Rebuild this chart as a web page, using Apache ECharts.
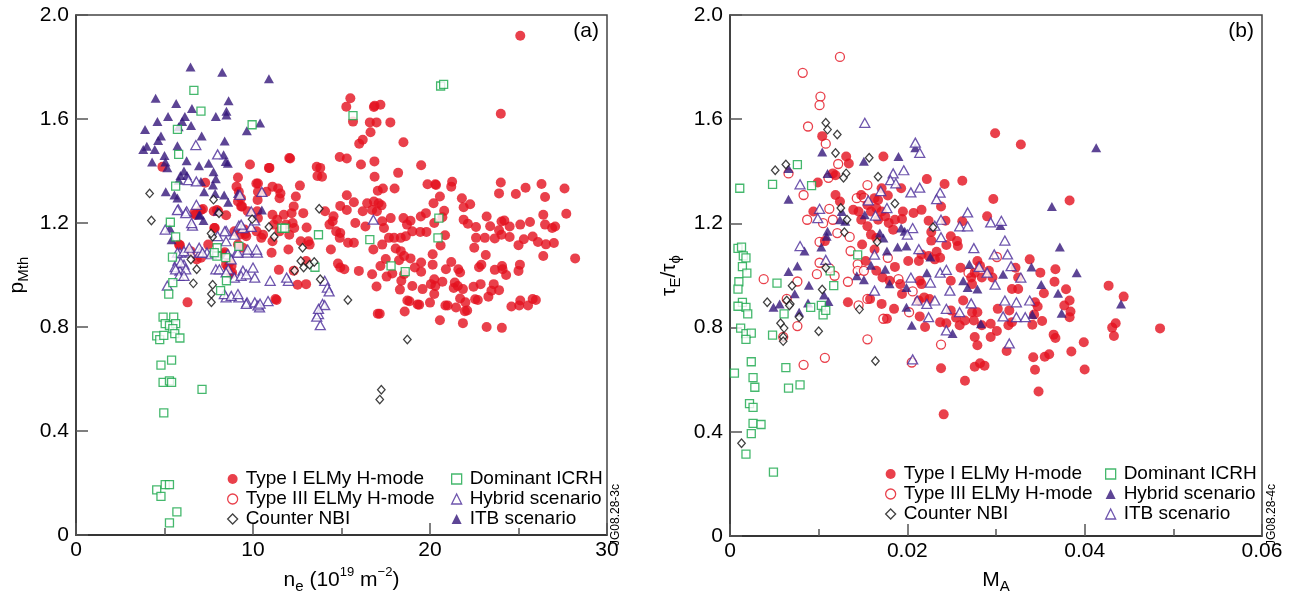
<!DOCTYPE html>
<html><head><meta charset="utf-8">
<script src="https://cdn.jsdelivr.net/npm/echarts@6/dist/echarts.min.js"></script>
<style>html,body{margin:0;padding:0;background:#fff}#c{width:1297px;height:599px}</style>
</head><body><div id="c"></div>
<script>
// ---------- tick labels ----------
const yTickLabels = ['0','0.4','0.8','1.2','1.6','2.0'];
const xTickLabelsA = ['0','10','20','30'];
const xTickLabelsB = ['0','0.02','0.04','0.06'];

// ---------- panel (a): p_Mth vs n_e ----------
const typeIA = [[4.88,1.416],[9.83,1.425],[10.93,1.412],[12.1,1.448],[9.15,1.375],[9.07,1.34],[9.2,1.32],[9.32,1.295],[9.38,1.264],[7.3,1.355],[10.19,1.352],[10.28,1.32],[10.26,1.289],[7.17,1.254],[7.96,1.25],[8.48,1.23],[7.84,1.181],[6.75,1.232],[5.87,1.115],[6.47,1.092],[6.82,1.06],[8.4,1.088],[8.48,1.041],[8.82,1.01],[8.79,1.035],[9.56,1.158],
[6.3,0.895],[11.33,0.904],[5.82,1.117],[7.06,1.25],[6.68,1.238],[7.78,1.245],[8.04,1.245],[9.15,1.283],[9.33,1.264],[9.7,1.245],[10.24,1.245],[8.95,1.168],[9.52,1.175],[9.62,1.149],[9.24,1.155],[10.2,1.168],[7.81,1.181],[7.47,1.117],[7.06,1.067],[8.38,1.08],[8.67,1.048],[8.58,1.029],[8.77,1.003],[9.15,1.117],[9.43,1.105],
[15.5,1.68],[15.27,1.647],[16.83,1.646],[16.87,1.651],[17.2,1.655],[15.65,1.59],[16.6,1.587],[16.98,1.587],[17.76,1.587],[16.64,1.549],[16.2,1.52],[16.0,1.505],[18.5,1.511],[12.05,1.45],[14.9,1.454],[15.3,1.448],[16.1,1.425],[16.86,1.437],[19.5,1.422],[10.9,1.412],[13.6,1.416],[13.8,1.412],[13.64,1.381],[13.9,1.378],[16.87,1.378],[18.2,1.393],[10.28,1.352],[11.1,1.34],[11.42,1.333],[11.55,1.314],[11.5,1.295],[10.76,1.32],[12.65,1.344],[12.42,1.302],[15.3,1.307],[15.7,1.28],[14.93,1.266],[15.3,1.25],[16.45,1.276],[16.83,1.283],[17.1,1.276],[17.26,1.268],[16.73,1.25],[17.0,1.245],[16.2,1.245],[17.05,1.324],[17.34,1.333],[18.0,1.333],[19.86,1.349],[20.34,1.346],[20.2,1.276],[12.3,1.264],[12.18,1.238],[12.24,1.2],[12.33,1.181],[11.86,1.194],[12.84,1.238],[11.74,1.232],[11.1,1.232],[11.37,1.213],[11.17,1.194],[11.5,1.168],[10.28,1.219],[10.57,1.155],[13.03,1.183],[14.07,1.245],[14.55,1.226],[14.5,1.207],[14.32,1.194],[14.7,1.168],[14.93,1.162],[14.9,1.143],[15.78,1.2],[16.35,1.187],[17.3,1.207],[17.4,1.181],[17.78,1.219],[18.5,1.219],[18.9,1.209],[18.7,1.194],[19.48,1.225],[19.77,1.238],[20.24,1.2],[19.0,1.168],[19.45,1.166],[19.8,1.166],[10.47,1.143],[11.1,1.13],[11.05,1.086],[12.0,1.098],[12.05,1.155],[12.7,1.13],[13.13,1.13],[13.2,1.117],[14.4,1.098],[15.37,1.124],[15.7,1.124],[16.8,1.098],[17.3,1.117],[17.68,1.143],[17.97,1.143],[18.35,1.143],[18.63,1.149],[18.06,1.102],[18.35,1.092],[18.54,1.073],[18.9,1.064],[18.25,1.057],[17.5,1.062],[19.5,1.048],[19.14,1.029],[19.5,1.013],[20.15,1.08],[20.15,1.04],[11.46,1.02],[12.3,1.017],[13.0,1.054],[14.8,1.044],[15.16,1.022],[14.93,1.029],[15.98,1.016],[16.73,1.003],[17.2,1.035],[17.55,0.994],[17.87,1.006],[18.54,1.003],[18.38,0.978],[12.52,0.963],[13.0,0.965],[16.98,0.956],[18.3,0.944],[19.0,0.958],[19.58,0.946],[20.05,0.965],[11.27,0.908],[18.72,0.902],[19.3,0.887],[20.0,0.894],[17.05,0.851],[18.57,0.86],
[25.1,1.92],[24.0,1.62],[20.3,1.349],[21.25,1.359],[21.2,1.34],[24.0,1.356],[23.9,1.314],[24.85,1.312],[25.4,1.336],[26.3,1.35],[26.5,1.3],[27.6,1.333],[20.56,1.302],[21.8,1.295],[21.9,1.261],[22.27,1.272],[20.8,1.247],[20.7,1.222],[21.9,1.213],[22.14,1.197],[22.6,1.185],[23.2,1.225],[23.4,1.188],[24.04,1.206],[24.2,1.21],[24.5,1.187],[23.9,1.172],[25.1,1.194],[25.65,1.204],[26.4,1.232],[26.5,1.194],[26.9,1.181],[27.07,1.187],[27.7,1.236],[20.85,1.153],[20.6,1.114],[22.6,1.143],[23.1,1.143],[23.66,1.141],[24.04,1.155],[24.5,1.146],[25.3,1.138],[25.0,1.115],[25.8,1.148],[26.1,1.127],[26.55,1.118],[27.0,1.123],[22.5,1.105],[23.15,1.077],[26.4,1.073],[28.2,1.064],[21.2,1.05],[20.9,1.022],[21.6,1.022],[21.7,1.01],[22.9,1.04],[22.77,1.03],[23.66,1.02],[24.07,1.035],[24.1,1.022],[24.3,1.0],[25.08,1.04],[25.0,1.016],[20.24,0.984],[20.7,0.974],[20.3,0.958],[20.24,0.927],[21.4,0.971],[21.57,0.958],[21.86,0.946],[21.34,0.95],[22.46,0.955],[22.86,0.965],[23.6,0.965],[23.47,0.94],[23.9,0.942],[23.3,0.917],[22.55,0.907],[21.7,0.91],[22.0,0.895],[21.97,0.861],[20.87,0.883],[21.47,0.875],[24.6,0.879],[25.1,0.902],[25.04,0.883],[25.54,0.883],[25.8,0.908],[20.56,0.826],[21.86,0.815],[23.2,0.8],[24.06,0.797],
[17.16,0.851],[18.84,0.899],[19.39,0.886],[21.0,0.883],[22.1,0.864],[22.7,0.904],[25.98,0.904]];

const counterA = [[4.16,1.314],[4.26,1.21],[7.77,1.29],[8.08,1.238],[9.95,1.215],[10.9,1.185],[11.2,1.147],[13.74,1.255],[7.72,1.147],[12.8,1.105],[12.7,1.054],[12.86,1.029],[13.2,1.04],[13.46,1.05],[13.8,0.984],[6.82,1.022],[6.63,0.968],[7.72,0.963],[7.65,0.927],[12.35,1.017],[7.65,0.895],[15.36,0.904],[18.72,0.752],[17.25,0.559],[17.16,0.521],[6.49,1.06],[7.63,1.16]];

const icrhA = [[6.66,1.71],[7.06,1.63],[9.95,1.578],[5.73,1.56],[5.8,1.464],[5.63,1.342],[5.33,1.203],[5.63,1.147],[5.45,1.069],[5.47,0.971],[5.24,0.927],[15.65,1.613],[20.6,1.727],[20.77,1.733],[11.63,1.18],[11.8,1.18],[13.7,1.155],[16.6,1.136],[20.5,1.219],[20.45,1.143],[17.8,1.035],[18.6,1.013],[9.2,1.11],[13.5,1.03],[8.5,0.978],[8.17,0.94],[7.96,1.073],[8.46,1.067],[7.97,1.105],[7.81,1.086],
[4.92,0.838],[5.52,0.838],[5.04,0.813],[5.28,0.806],[5.63,0.813],[5.47,0.794],[5.58,0.775],[4.56,0.766],[4.73,0.752],[5.87,0.758],[4.96,0.768],[4.8,0.654],[5.4,0.673],[4.92,0.587],[5.28,0.593],[5.4,0.587],[7.12,0.56],[4.96,0.47],[4.56,0.174],[4.8,0.149],[5.04,0.194],[5.28,0.194],[5.7,0.089],[5.28,0.047]];

const hybridA = [[6.77,1.50],[8.0,1.464],[6.35,1.365],[6.8,1.36],[10.5,1.32],[9.26,1.308],[5.78,1.253],[6.25,1.245],[6.8,1.27],[9.9,1.245],[6.58,1.19],[5.04,1.175],[9.2,1.19],[9.43,1.18],[9.9,1.185],[10.1,1.21],[8.48,1.17],[8.95,1.155],[16.8,1.213],[5.87,1.086],[6.47,1.086],[7.0,1.086],[7.4,1.086],[9.07,1.086],[9.66,1.086],[10.25,1.086],[5.76,1.055],[6.1,1.04],[5.6,1.03],[5.87,1.017],[8.6,1.022],[9.43,1.017],[10.97,0.978],[12.0,0.978],[14.05,0.978],[14.2,0.952],[14.3,0.937],
[8.48,0.914],[9.2,0.914],[9.66,0.895],[10.37,0.876],[10.85,0.9],[13.7,0.85],[13.8,0.807],[13.93,0.889],[14.05,0.884],
[5.73,1.25],[6.2,1.238],[6.53,1.2],[5.73,1.086],[6.1,1.092],[6.4,1.105],[6.96,1.105],[7.15,1.086],[7.63,1.08],[7.9,1.086],[8.4,1.168],[8.48,1.13],[8.0,1.15],[8.58,1.08],[8.77,1.06],[9.15,1.086],[9.33,1.194],[9.7,1.098],[10.2,1.098],[5.92,1.048],[6.2,1.022],[5.63,1.022],[5.82,0.997],[6.1,0.997],[5.16,0.959],[7.9,1.022],[8.1,1.022],[8.48,1.01],[8.95,0.99],[9.33,0.997],[9.62,1.003],[10.0,1.029],[10.1,0.99],[8.38,0.927],[8.77,0.92],[9.15,0.927],[9.62,0.889],[10.1,0.895],[10.28,0.883],
[11.9,0.99],[10.4,0.89],[13.6,0.84],[13.7,0.87]];

const itbA = [[6.47,1.80],[8.26,1.78],[10.9,1.755],[4.5,1.68],[5.66,1.66],[8.62,1.67],[6.55,1.64],[8.5,1.63],[8.5,1.615],[5.2,1.61],[7.9,1.61],[4.6,1.59],[6.15,1.61],[6.0,1.59],[5.8,1.57],[6.5,1.575],[3.9,1.56],[10.4,1.585],[9.65,1.555],[7.1,1.535],[4.8,1.535],[4.64,1.517],[8.4,1.515],[4.0,1.495],[3.8,1.483],[4.45,1.483],[5.73,1.497],[5.0,1.46],[5.05,1.435],[8.34,1.463],[8.46,1.437],[8.58,1.43],[4.3,1.435],[6.25,1.44],[6.95,1.42],[7.5,1.43],[5.16,1.413],[6.1,1.40],[5.9,1.383],[5.8,1.365],[6.27,1.383],[7.77,1.397],[7.9,1.37],[7.74,1.346],[7.06,1.36],[5.07,1.32],[5.56,1.308],[5.73,1.296],[7.24,1.32],[7.86,1.314],[8.37,1.308],[9.15,1.314],[10.5,1.25],[7.0,1.232],[5.4,1.136],[7.2,1.21],[5.3,1.18],[6.95,1.23],[8.0,1.245],[8.6,1.28]];

// ---------- panel (b): tau_E/tau_phi vs M_A ----------
const typeIB = [[0.0383,1.288],[0.035,1.011],[0.0367,1.024],[0.0366,0.976],[0.0354,0.932],[0.0379,0.947],[0.0383,0.904],[0.0377,0.885],[0.0384,0.862],[0.0383,0.84],[0.0344,0.897],[0.0347,0.881],[0.0341,0.811],[0.0352,0.825],[0.0427,0.961],[0.0444,0.919],[0.0435,0.817],[0.0431,0.8],[0.0433,0.768],[0.0485,0.797],[0.0365,0.773],[0.0367,0.76],[0.0399,0.744],[0.0385,0.708],[0.0342,0.686],[0.0355,0.688],[0.036,0.698],[0.0344,0.638],[0.04,0.639],[0.0348,0.555],[0.0338,1.062],
[0.0299,1.546],[0.0328,1.503],[0.0173,1.457],[0.0222,1.37],[0.0242,1.351],[0.0262,1.364],[0.0297,1.294],[0.0193,1.335],[0.0178,1.307],[0.0171,1.335],[0.0167,1.29],[0.0238,1.265],[0.0216,1.252],[0.0207,1.24],[0.0195,1.246],[0.0186,1.214],[0.0179,1.202],[0.0184,1.176],[0.0194,1.217],[0.0224,1.21],[0.0243,1.21],[0.0262,1.208],[0.029,1.227],[0.0227,1.167],[0.0227,1.134],[0.0249,1.151],[0.0244,1.117],[0.0256,1.132],[0.0257,1.113],[0.0171,1.246],[0.0175,1.227],[0.0165,1.144],[0.0216,1.081],[0.0224,1.075],[0.0233,1.091],[0.0237,1.068],[0.0231,1.062],[0.0201,1.056],[0.0213,1.056],[0.0186,1.033],[0.0165,1.018],[0.0172,0.992],[0.018,0.98],[0.0192,0.967],[0.0194,0.929],[0.0214,0.98],[0.0216,0.967],[0.0171,0.891],[0.0185,0.872],[0.0177,0.834],[0.0213,0.904],[0.0219,0.916],[0.0225,0.91],[0.0214,0.843],[0.022,0.802],[0.0237,0.821],[0.0244,0.817],[0.0249,0.866],[0.0255,0.838],[0.0259,0.809],[0.0265,0.827],[0.0263,0.904],[0.0272,0.992],[0.0273,0.967],[0.0276,1.011],[0.0279,1.056],[0.0282,1.037],[0.0284,0.992],[0.0292,1.018],[0.0296,0.992],[0.026,1.03],[0.0249,0.98],[0.0273,0.859],[0.0279,0.859],[0.0275,0.827],[0.0284,0.809],[0.0294,0.815],[0.0294,0.764],[0.0301,0.787],[0.0276,0.764],[0.0279,0.732],[0.0302,0.872],[0.0315,0.866],[0.0318,0.821],[0.0314,0.809],[0.0322,1.03],[0.0325,0.992],[0.0325,0.948],[0.0318,0.948],[0.0343,0.85],[0.0312,0.71],[0.0276,0.65],[0.0282,0.663],[0.0287,0.654],[0.0238,0.644],[0.0265,0.596],[0.0241,0.467],
[0.0104,1.535],[0.0131,1.457],[0.0134,1.43],[0.0116,1.392],[0.0119,1.385],[0.0099,1.357],[0.0119,1.309],[0.0124,1.284],[0.0094,1.246],[0.0148,1.309],[0.0163,1.297],[0.0155,1.271],[0.0145,1.246],[0.0139,1.252],[0.0148,1.214],[0.0159,1.246],[0.0165,1.259],[0.0167,1.214],[0.0155,1.189],[0.0159,1.157],[0.0149,1.119],[0.0163,1.1],
[0.0107,1.132],[0.0153,1.056],[0.0133,0.897],[0.0158,0.91]];

const typeIIIB = [[0.0124,1.839],[0.0082,1.778],[0.0102,1.687],[0.0101,1.654],[0.0088,1.572],[0.0108,1.506],[0.0122,1.428],[0.0066,1.392],[0.0111,1.375],[0.0155,1.347],[0.0083,1.309],[0.0087,1.214],[0.0112,1.256],[0.0116,1.214],[0.0105,1.201],[0.0143,1.297],[0.0135,1.148],[0.0121,1.163],[0.0101,1.129],[0.0136,1.094],[0.0151,1.299],
[0.0038,0.986],[0.0076,0.977],[0.0098,1.005],[0.0101,1.049],[0.0112,1.028],[0.0118,0.999],[0.0133,0.976],[0.0144,1.043],[0.0144,1.018],[0.0151,1.018],[0.0155,0.91],[0.0145,0.885],[0.0076,0.806],[0.0064,0.91],[0.0155,0.755],[0.0107,0.684],[0.0083,0.657],[0.006,0.764],
[0.0178,1.068],[0.019,0.986],[0.0206,0.939],[0.0202,0.859],[0.0173,0.834],[0.0238,0.735],[0.0205,0.666],[0.0301,1.071],[0.0269,1.011]];

const counterB = [[0.0108,1.586],[0.011,1.56],[0.0121,1.541],[0.0119,1.47],[0.0157,1.452],[0.0051,1.404],[0.0063,1.426],[0.0131,1.392],[0.0128,1.375],[0.0167,1.379],[0.0125,1.259],[0.0132,1.214],[0.0129,1.166],[0.0166,1.129],[0.0186,1.276],[0.0229,1.185],
[0.007,0.961],[0.0042,0.897],[0.0064,0.904],[0.0068,0.891],[0.0067,0.885],[0.0104,0.946],[0.0078,0.84],[0.0057,0.817],[0.0061,0.798],[0.006,0.764],[0.006,0.748],[0.01,0.786],[0.0146,0.87],[0.0164,0.672],[0.0013,0.356],[0.0108,1.03]];

const icrhB = [[0.0076,1.426],[0.0048,1.35],[0.0092,1.345],[0.0011,1.335],[0.0009,1.104],[0.0013,1.109],[0.0015,1.075],[0.0144,1.079],
[0.0018,1.068],[0.0014,1.034],[0.0019,1.009],[0.001,0.976],[0.0009,0.948],[0.0014,0.897],[0.0018,0.878],[0.0009,0.882],[0.002,0.853],[0.0012,0.798],[0.0018,0.777],[0.0024,0.779],[0.0018,0.755],[0.0024,0.669],[0.0005,0.625],[0.0026,0.608],[0.0028,0.571],[0.0022,0.508],[0.0026,0.494],[0.0026,0.432],[0.0035,0.428],[0.0024,0.393],[0.0018,0.314],[0.0049,0.245],[0.0053,0.971],[0.0061,0.853],[0.0048,0.771],[0.0063,0.646],[0.0066,0.568],[0.0079,0.58],[0.0091,0.878],[0.0103,0.885],[0.0105,0.849],[0.0108,0.866],[0.0117,0.961],[0.0113,1.018]];

const hybridB = [[0.0151,1.439],[0.0104,1.474],[0.011,1.392],[0.0066,1.411],[0.0066,1.293],[0.0126,1.246],[0.0152,1.233],[0.011,1.17],[0.0109,1.151],[0.0124,1.214],[0.013,1.208],[0.0193,1.182],[0.0197,1.17],[0.0103,1.109],[0.0084,1.094],
[0.0066,1.015],[0.0076,1.036],[0.0089,0.963],[0.0073,0.93],[0.0049,0.878],[0.0056,0.891],[0.0078,0.859],[0.0088,0.894],[0.0106,0.925],[0.0111,0.9],[0.0143,0.999],[0.0151,0.984],[0.0159,1.039],
[0.019,1.457],[0.0209,1.49],[0.0169,1.163],[0.0173,1.144],[0.0177,1.094],[0.0189,1.109],[0.0199,1.113],[0.0226,1.071],[0.0175,1.024],[0.018,0.968],[0.0199,0.954],[0.0222,1.011],[0.0263,0.98],[0.0268,0.954],[0.0279,0.948],[0.027,1.043],[0.0308,1.005],[0.0305,1.192],[0.0199,0.878],[0.0205,0.809],[0.0251,0.777],[0.0283,0.815],
[0.0413,1.49],[0.0363,1.265],[0.0372,1.109],[0.0391,1.011],[0.0351,0.965],[0.037,0.932],[0.0341,0.85],[0.0374,0.855],[0.0441,0.891],[0.034,1.033]];

const itbB = [[0.0152,1.586],[0.0209,1.51],[0.0214,1.471],[0.0184,1.392],[0.0196,1.404],[0.0181,1.366],[0.0187,1.354],[0.0214,1.337],[0.0204,1.319],[0.0237,1.318],[0.0233,1.293],[0.017,1.324],[0.0156,1.288],[0.0079,1.35],[0.0101,1.256],[0.0099,1.22],[0.0177,1.259],[0.0164,1.23],[0.0268,1.242],[0.0238,1.214],[0.0231,1.191],[0.0259,1.189],[0.0268,1.189],[0.0294,1.204],[0.0306,1.21],[0.0206,1.182],[0.02,1.157],[0.031,1.134],[0.0079,1.113],[0.0108,1.06],[0.0163,1.08],[0.0213,1.101],[0.0238,1.147],[0.0275,1.105],[0.0298,1.081],[0.0313,1.081],[0.0317,1.036],[0.0328,0.992],[0.0281,1.033],[0.029,1.011],[0.0237,1.011],[0.0244,1.022],[0.0204,0.992],[0.0226,0.973],[0.0163,0.942],[0.0248,0.942],[0.0299,0.965],
[0.0211,0.904],[0.0222,0.891],[0.0231,0.904],[0.0224,0.84],[0.0244,0.872],[0.0244,0.789],[0.0259,0.859],[0.0272,0.893],[0.031,0.904],[0.0323,0.897],[0.0338,0.904],[0.0308,0.843],[0.0323,0.84],[0.0333,0.84],[0.0315,0.739],[0.0206,0.678]];

// ---------- styling ----------
const FONT = 'Liberation Sans, Arial, sans-serif';
const RED = '#e3101e', GREEN = '#17a649', PURPLE = '#35167a', PURPLE2 = '#4a2a98', BLACK = '#111';
const TRI = [10, 9];

function filled(name, data, gi, symbol, size, color) {
  return { type: 'scatter', name, data, xAxisIndex: gi, yAxisIndex: gi, symbol, symbolSize: size,
    itemStyle: { color, borderWidth: 0 }, emphasis: { disabled: true }, animation: false, silent: true };
}
function open(name, data, gi, symbol, size, color) {
  return { type: 'scatter', name, data, xAxisIndex: gi, yAxisIndex: gi, symbol, symbolSize: size,
    itemStyle: { color: '#fff', borderColor: color, borderWidth: 1.3 }, emphasis: { disabled: true }, animation: false, silent: true };
}

const legFill = (name, icon, color) => ({ name, icon, itemStyle: { color, borderWidth: 0 } });
const legOpen = (name, icon, color) => ({ name, icon, itemStyle: { color: '#fff', borderColor: color, borderWidth: 1.3 } });

function legend(left, top, data) {
  return { left, top, padding: 0, orient: 'vertical', itemWidth: 10, itemHeight: 10, itemGap: 0, selectedMode: false,
    textStyle: { fontFamily: FONT, fontSize: 19, color: '#000', lineHeight: 20, padding: [0, 0, 0, 3] }, data };
}

function yAxis(gi, nameRich, name, gap) {
  return { type: 'value', gridIndex: gi, min: 0, max: 2.0, interval: 0.4,
    axisLine: { show: true, lineStyle: { color: '#333', width: 1.5 } },
    axisTick: { show: true, inside: true, length: 12, lineStyle: { color: '#555', width: 1.5 } },
    splitLine: { show: false },
    axisLabel: { color: '#000', fontFamily: FONT, fontSize: 21, margin: 7,
      formatter: v => yTickLabels[Math.round(v / 0.4)] },
    name, nameLocation: 'middle', nameRotate: 90, nameGap: gap,
    nameTextStyle: { color: '#000', fontFamily: FONT, rich: nameRich } };
}
function xAxis(gi, max, interval, labels, name, nameRich) {
  return { type: 'value', gridIndex: gi, min: 0, max, interval,
    axisLine: { show: true, onZero: false, lineStyle: { color: '#222', width: 1.5 } },
    axisTick: { show: true, inside: true, length: 12, lineStyle: { color: '#555', width: 1.5 } },
    minorTick: { show: true, splitNumber: 2, length: 7, lineStyle: { color: '#555', width: 1.5 } },
    splitLine: { show: false },
    axisLabel: { color: '#000', fontFamily: FONT, fontSize: 21, margin: 5,
      formatter: v => labels[Math.round(v / interval)] },
    name, nameLocation: 'middle', nameGap: 30,
    nameTextStyle: { color: '#000', fontFamily: FONT, rich: nameRich } };
}

const richMain = { fontFamily: FONT, fontSize: 21, lineHeight: 28, verticalAlign: 'middle', color: '#000' };
const richSub = { fontFamily: FONT, fontSize: 15, lineHeight: 14, verticalAlign: 'bottom', color: '#000' };
const richSup = { fontFamily: FONT, fontSize: 13, lineHeight: 14, verticalAlign: 'top', color: '#000' };
const RICH = { m: richMain, s: richSub, u: richSup };

const option = {
  backgroundColor: '#fff',
  animation: false,
  grid: [
    { left: 76, top: 15, width: 531, height: 526, show: true, borderColor: '#444', borderWidth: 1.5 },
    { left: 730, top: 15, width: 532, height: 526, show: true, borderColor: '#444', borderWidth: 1.5 }
  ],
  xAxis: [
    xAxis(0, 30, 10, xTickLabelsA, '{m|n}{s|e}{m| (10}{u|19}{m| m}{u|−2}{m|)}', RICH),
    xAxis(1, 0.06, 0.02, xTickLabelsB, '{m|M}{s|A}', RICH)
  ],
  yAxis: [
    yAxis(0, RICH, '{m|p}{s|Mth}', 45),
    yAxis(1, RICH, '{m|τ}{s|E}{m|/τ}{s|ϕ}', 47)
  ],
  legend: [
    legend(227, 469, [legFill('Type I ELMy H-mode', 'circle', RED), legOpen('Type III ELMy H-mode', 'circle', RED), legOpen('Counter NBI', 'diamond', BLACK)]),
    legend(451, 469, [legOpen('Dominant ICRH', 'rect', GREEN), legOpen('Hybrid scenario', 'triangle', PURPLE2), legFill('ITB scenario', 'triangle', PURPLE)]),
    legend(885, 464, [legFill('Type I ELMy H-mode', 'circle', RED), legOpen('Type III ELMy H-mode', 'circle', RED), legOpen('Counter NBI', 'diamond', BLACK)]),
    legend(1105, 464, [legOpen('Dominant ICRH', 'rect', GREEN), legFill('Hybrid scenario', 'triangle', PURPLE), legOpen('ITB scenario', 'triangle', PURPLE2)])
  ],
  graphic: [
    { type: 'text', right: 1297 - 599, top: 21, style: { text: '(a)', font: '21px ' + FONT, fill: '#000' } },
    { type: 'text', right: 1297 - 1254, top: 21, style: { text: '(b)', font: '21px ' + FONT, fill: '#000' } },
    { type: 'text', x: 610, y: 546, rotation: Math.PI / 2, style: { text: 'JG08.28-3c', font: '12px ' + FONT, fill: '#000', textVerticalAlign: 'top' } },
    { type: 'text', x: 1266, y: 546, rotation: Math.PI / 2, style: { text: 'JG08.28-4c', font: '12px ' + FONT, fill: '#000', textVerticalAlign: 'top' } }
  ],
  series: [
    filled('Type I ELMy H-mode', typeIA, 0, 'circle', 10, RED),
    filled('ITB scenario', itbA, 0, 'triangle', TRI, PURPLE),
    open('Hybrid scenario', hybridA, 0, 'triangle', TRI, PURPLE2),
    open('Dominant ICRH', icrhA, 0, 'rect', 8, GREEN),
    open('Counter NBI', counterA, 0, 'diamond', [7.5, 8.5], BLACK),

    open('Type III ELMy H-mode', typeIIIB, 1, 'circle', 9, RED),
    filled('Type I ELMy H-mode', typeIB, 1, 'circle', 10, RED),
    filled('Hybrid scenario', hybridB, 1, 'triangle', TRI, PURPLE),
    open('ITB scenario', itbB, 1, 'triangle', TRI, PURPLE2),
    open('Dominant ICRH', icrhB, 1, 'rect', 8, GREEN),
    open('Counter NBI', counterB, 1, 'diamond', [7.5, 8.5], BLACK)
  ]
};
const chart = echarts.init(document.getElementById('c'));
chart.setOption(option);
</script>
</body></html>
